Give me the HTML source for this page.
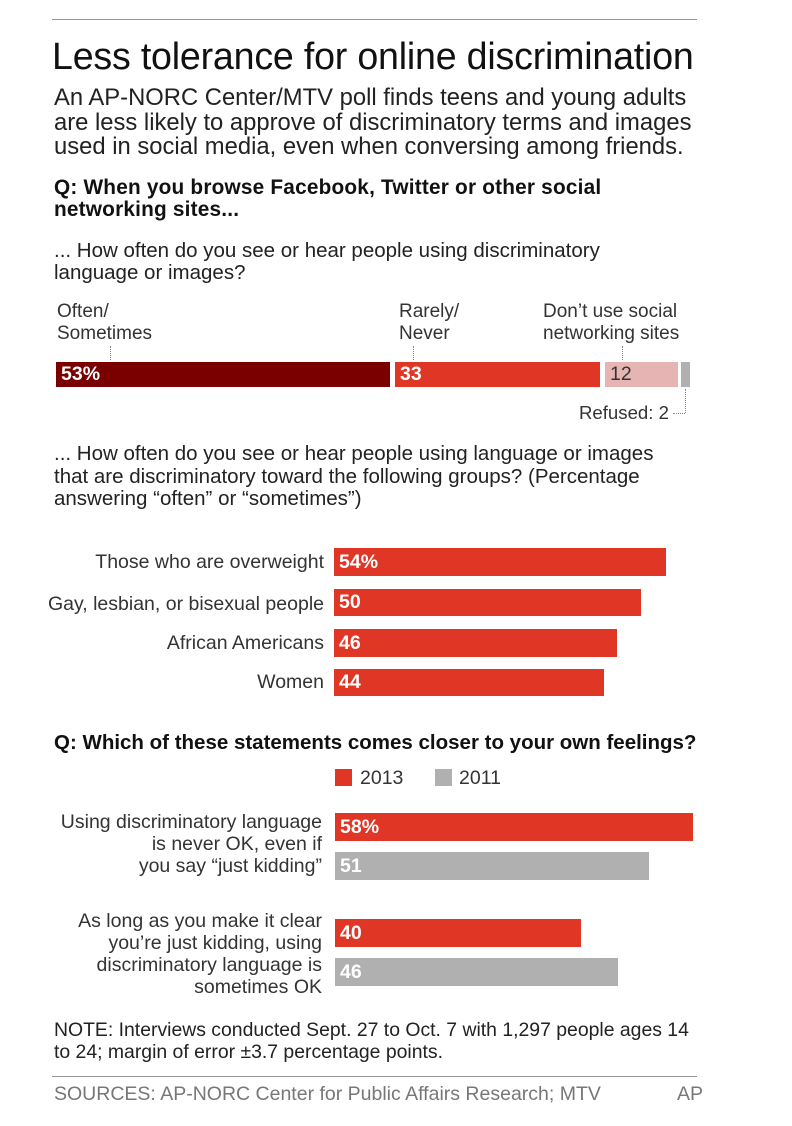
<!DOCTYPE html>
<html><head><style>
body{margin:0;width:792px;height:1126px;background:#fff;font-family:"Liberation Sans",Arial,sans-serif;color:#222;position:relative;overflow:hidden}
div{position:absolute;white-space:nowrap}
.r{text-align:right}
.b{font-weight:bold}
.bar{height:27px}
.v{color:#fff;font-weight:bold;font-size:19.5px;line-height:27px;padding-left:5px;box-sizing:border-box}
.t{font-size:19.5px;color:#333}
.dot{border-left:1px dotted #888;width:0}
</style></head><body>
<div style="left:52px;top:19px;width:645px;height:1px;background:#999"></div>
<div style="left:52px;top:35px;font-size:37.6px;color:#111;letter-spacing:-0.2px">Less tolerance for online discrimination</div>
<div style="left:54px;top:86px;font-size:23.8px;line-height:24.5px;color:#222">An AP-NORC Center/MTV poll finds teens and young adults<br>are less likely to approve of discriminatory terms and images<br>used in social media, even when conversing among friends.</div>
<div class="b" style="left:54px;top:177px;font-size:20.8px;line-height:22px;color:#111;letter-spacing:0.2px">Q: When you browse Facebook, Twitter or other social<br>networking sites...</div>
<div style="left:54px;top:240px;font-size:20.5px;line-height:22px;color:#222">... How often do you see or hear people using discriminatory<br>language or images?</div>
<div class="t" style="left:57px;top:301px;line-height:22px;font-size:19px">Often/<br>Sometimes</div>
<div class="t" style="left:399px;top:301px;line-height:22px;font-size:19px">Rarely/<br>Never</div>
<div class="t" style="left:543px;top:301px;line-height:22px;font-size:19px">Don’t use social<br>networking sites</div>
<div class="dot" style="left:110px;top:346px;height:14px"></div>
<div class="dot" style="left:413px;top:346px;height:14px"></div>
<div class="dot" style="left:622px;top:346px;height:14px"></div>
<div class="bar v" style="left:56px;top:362px;width:334px;background:#7a0000;height:25px;line-height:25px">53%</div>
<div class="bar v" style="left:395px;top:362px;width:205px;background:#e03626;height:25px;line-height:25px">33</div>
<div class="bar v" style="left:605px;top:362px;width:73px;background:#e6b4b3;color:#333;font-weight:normal;height:25px;line-height:25px">12</div>
<div class="bar" style="left:681px;top:362px;width:9px;background:#b0b0b0;height:25px"></div>
<div class="dot" style="left:685px;top:389px;height:24px"></div>
<div style="left:673px;top:413px;width:12px;border-top:1px dotted #888"></div>
<div class="t" style="left:579px;top:402px;font-size:18.6px">Refused: 2</div>
<div style="left:54px;top:443px;font-size:20.5px;line-height:22.5px;color:#222">... How often do you see or hear people using language or images<br>that are discriminatory toward the following groups? (Percentage<br>answering “often” or “sometimes”)</div>
<div class="t r" style="right:468px;top:551px">Those who are overweight</div>
<div class="t r" style="right:468px;top:593px">Gay, lesbian, or bisexual people</div>
<div class="t r" style="right:468px;top:632px">African Americans</div>
<div class="t r" style="right:468px;top:671px">Women</div>
<div class="bar v" style="left:334px;top:548px;width:332px;background:#e03626;height:28px;line-height:28px">54%</div>
<div class="bar v" style="left:334px;top:589px;width:307px;background:#e03626">50</div>
<div class="bar v" style="left:334px;top:629px;width:283px;background:#e03626;height:28px;line-height:28px">46</div>
<div class="bar v" style="left:334px;top:669px;width:270px;background:#e03626">44</div>
<div class="b" style="left:54px;top:731px;font-size:20.5px;color:#111">Q: Which of these statements comes closer to your own feelings?</div>
<div style="left:335px;top:769px;width:17px;height:17px;background:#e03626"></div>
<div class="t" style="left:360px;top:767px">2013</div>
<div style="left:435px;top:769px;width:17px;height:17px;background:#b0b0b0"></div>
<div class="t" style="left:459px;top:767px">2011</div>
<div class="t r" style="right:470px;top:811px;line-height:22px">Using discriminatory language<br>is never OK, even if<br>you say “just kidding”</div>
<div class="t r" style="right:470px;top:910px;line-height:22px">As long as you make it clear<br>you’re just kidding, using<br>discriminatory language is<br>sometimes OK</div>
<div class="bar v" style="left:335px;top:813px;width:358px;background:#e03626;height:28px;line-height:28px">58%</div>
<div class="bar v" style="left:335px;top:852px;width:314px;background:#b0b0b0;height:28px;line-height:28px">51</div>
<div class="bar v" style="left:335px;top:919px;width:246px;background:#e03626;height:28px;line-height:28px">40</div>
<div class="bar v" style="left:335px;top:958px;width:283px;background:#b0b0b0;height:28px;line-height:28px">46</div>
<div style="left:54px;top:1019px;font-size:19.4px;line-height:22px;color:#222">NOTE: Interviews conducted Sept. 27 to Oct. 7 with 1,297 people ages 14<br>to 24; margin of error ±3.7 percentage points.</div>
<div style="left:52px;top:1076px;width:645px;height:1px;background:#999"></div>
<div style="left:54px;top:1083px;font-size:19.5px;color:#777">SOURCES: AP-NORC Center for Public Affairs Research; MTV</div>
<div style="left:677px;top:1083px;font-size:19.5px;color:#777">AP</div>
</body></html>
